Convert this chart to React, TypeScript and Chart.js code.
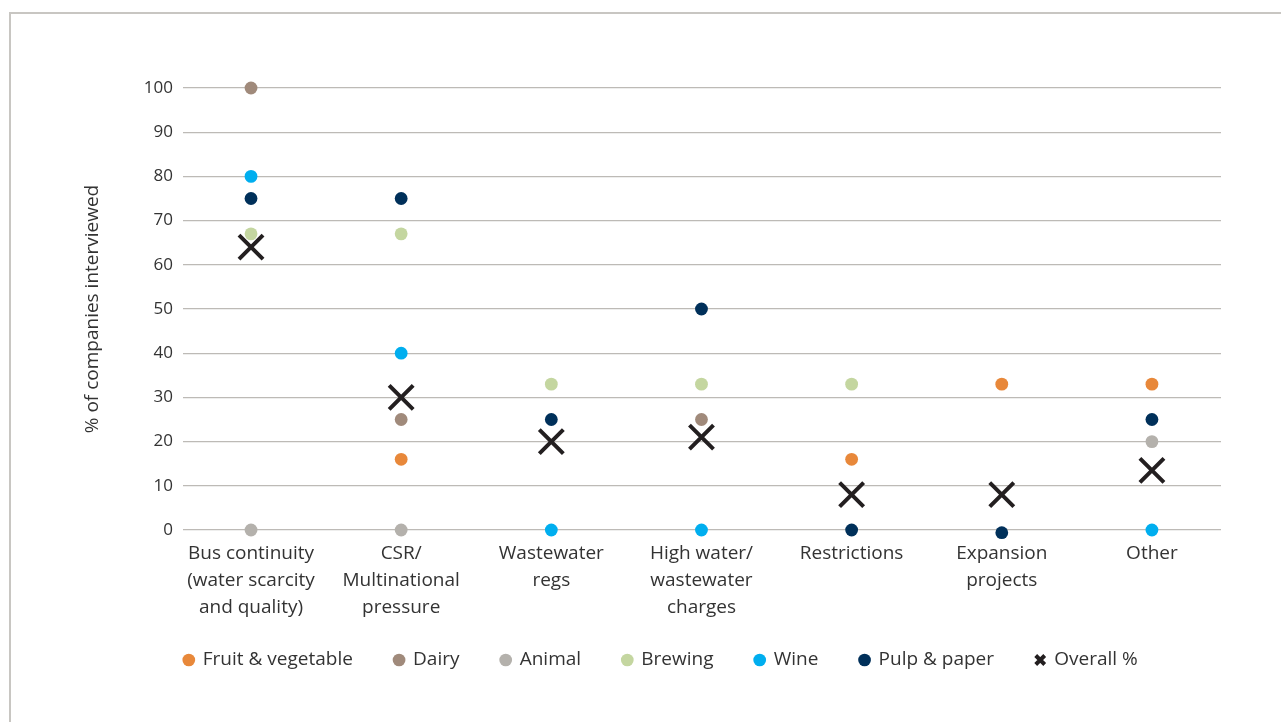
import React, { useEffect, useRef } from "react";
import { Chart, registerables } from "chart.js";

Chart.register(...registerables);

const categories: string[][] = [
  ["Bus continuity", "(water scarcity", "and quality)"],
  ["CSR/", "Multinational", "pressure"],
  ["Wastewater", "regs"],
  ["High water/", "wastewater", "charges"],
  ["Restrictions"],
  ["Expansion", "projects"],
  ["Other"],
];

const fruitVeg: (number | null)[] = [null, 16, null, null, 16, 33, 33];
const dairy: (number | null)[] = [100, 25, null, 25, null, null, null];
const animal: (number | null)[] = [0, 0, null, null, null, null, 20];
const brewing: (number | null)[] = [67, 67, 33, 33, 33, null, null];
const wine: (number | null)[] = [80, 40, 0, 0, null, null, 0];
const pulpPaper: (number | null)[] = [75, 75, 25, 50, 0, -0.6, 25];
const overall: (number | null)[] = [64, 30, 20, 21, 8, 8, 13.5];

const yTicks = [0, 10, 20, 30, 40, 50, 60, 70, 80, 90, 100];

const FONT = "'Open Sans', 'Noto Sans', sans-serif";
const TEXT = "#333333";

function toPoints(values: (number | null)[]) {
  return values
    .map((v, i) => (v === null ? null : { x: i, y: v }))
    .filter((p) => p !== null) as { x: number; y: number }[];
}

function dotSet(label: string, values: (number | null)[], color: string) {
  return {
    label,
    data: toPoints(values),
    backgroundColor: color,
    borderColor: color,
    borderWidth: 0,
    pointRadius: 6.4,
    pointHoverRadius: 6.4,
    pointStyle: "circle",
    clip: false,
    order: 1,
  };
}

const legendShift = {
  id: "legendShift",
  afterLayout(chart: any) {
    const l = chart.legend;
    if (l) {
      l.left += 45;
      l.right += 45;
    }
  },
};

export default function App() {
  const ref = useRef<HTMLCanvasElement | null>(null);

  useEffect(() => {
    if (!ref.current) return;
    const chart = new Chart(ref.current, {
      type: "scatter",
      data: {
        datasets: [
          dotSet("Fruit & vegetable", fruitVeg, "#e8883a"),
          dotSet("Dairy", dairy, "#a08a7b"),
          dotSet("Animal", animal, "#b4b1ac"),
          dotSet("Brewing", brewing, "#c4d6a0"),
          dotSet("Wine", wine, "#00aeef"),
          dotSet("Pulp & paper", pulpPaper, "#00305a"),
          {
            label: "Overall %",
            data: toPoints(overall),
            backgroundColor: "#231f20",
            borderColor: "#231f20",
            borderWidth: 4,
            pointRadius: 17,
            pointHoverRadius: 17,
            pointStyle: "crossRot",
            clip: false,
            order: 0,
          },
        ] as any,
      },
      plugins: [legendShift],
      options: {
        animation: false,
        responsive: false,
        maintainAspectRatio: false,
        layout: { padding: { top: 74, right: 60, bottom: 42.5, left: 0 } },
        plugins: {
          tooltip: { enabled: false },
          legend: {
            position: "bottom",
            labels: {
              usePointStyle: true,
              boxWidth: 9,
              boxHeight: 9,
              padding: 41.7,
              color: TEXT,
              font: { family: FONT, size: 19 },
              sort: (a: any, b: any) => a.datasetIndex - b.datasetIndex,
            },
          },
        },
        scales: {
          x: {
            type: "linear",
            min: -0.453,
            max: 6.46,
            afterBuildTicks: (scale: any) => {
              scale.ticks = categories.map((_, i) => ({ value: i }));
            },
            afterFit: (scale: any) => {
              scale.height = 78.8;
              // let the three-line category labels extend below the axis box
              scale._computeLabelArea = () => undefined;
            },
            grid: { display: false, drawTicks: false },
            border: { display: false },
            ticks: {
              autoSkip: false,
              maxRotation: 0,
              padding: 10,
              color: TEXT,
              font: { family: FONT, size: 19, lineHeight: 27 / 19 },
              callback: (value: any) => categories[Math.round(Number(value))] ?? "",
            },
          },
          y: {
            type: "linear",
            min: 0,
            max: 100,
            afterBuildTicks: (scale: any) => {
              scale.ticks = yTicks.map((v) => ({ value: v }));
            },
            afterFit: (scale: any) => {
              scale.width = 172;
            },
            grid: { color: "#bdbab6", lineWidth: 1.2, drawTicks: false },
            border: { display: false },
            ticks: {
              padding: 10,
              color: TEXT,
              font: { family: FONT, size: 17 },
            },
            title: {
              display: true,
              text: "% of companies interviewed",
              color: TEXT,
              font: { family: FONT, size: 19 },
              padding: { top: 70.5, bottom: 0 },
            },
          },
        },
      } as any,
    });
    return () => chart.destroy();
  }, []);

  return (
    <div
      style={{
        position: "absolute",
        left: 9,
        top: 12,
        width: 1272,
        height: 710,
        borderTop: "2px solid #c8c6c2",
        borderLeft: "2px solid #c8c6c2",
        background: "#fff",
      }}
    >
      <canvas ref={ref} width={1270} height={708} style={{ display: "block" }} />
    </div>
  );
}
